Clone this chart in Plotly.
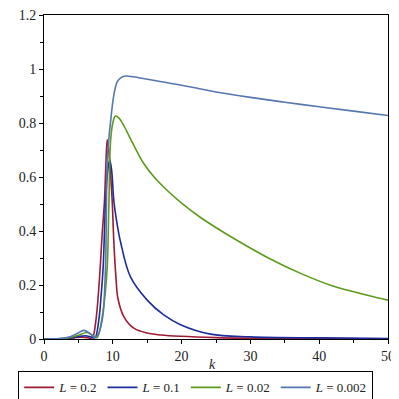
import plotly.graph_objects as go

# L = 0.2
k_a = [0, 2, 3.5, 4.5, 5.5, 6.3, 7.0, 7.5, 8.0, 8.46, 8.79, 9.0, 9.19, 9.4, 9.65, 9.91, 10.15, 10.45, 10.75, 11.6, 13.05, 15.0, 17.0, 19.8, 25, 30, 40, 50]
v_a = [0, 0.0005, 0.002, 0.005, 0.007, 0.005, 0.004, 0.06, 0.2, 0.389, 0.512, 0.65, 0.738, 0.70, 0.62, 0.512, 0.36, 0.23, 0.15, 0.083, 0.040, 0.022, 0.015, 0.010, 0.005, 0.003, 0.0015, 0.001]

# L = 0.1
k_b = [0, 2, 3.5, 4.8, 6.0, 6.8, 7.4, 7.97, 8.3, 8.6, 8.95, 9.25, 9.56, 9.85, 10.15, 10.6, 11.12, 12.57, 15.0, 17.41, 19.84, 24.2, 30, 40, 50]
v_b = [0, 0.0006, 0.003, 0.008, 0.012, 0.008, 0.004, 0.071, 0.16, 0.267, 0.51, 0.62, 0.665, 0.62, 0.512, 0.43, 0.36, 0.23, 0.144, 0.089, 0.053, 0.018, 0.008, 0.004, 0.002]

# L = 0.02
k_c = [0, 2, 3.5, 5.0, 6.28, 7.0, 7.7, 8.46, 8.9, 9.19, 9.45, 9.67, 10.0, 10.39, 10.9, 11.6, 12.5, 13.5, 14.5, 16.0, 18.0, 20.0, 22.75, 27.6, 32.4, 37.3, 42.1, 47.0, 50]
v_c = [0, 0.0008, 0.004, 0.014, 0.024, 0.015, 0.005, 0.083, 0.17, 0.267, 0.52, 0.732, 0.80, 0.826, 0.818, 0.790, 0.745, 0.695, 0.650, 0.600, 0.548, 0.503, 0.450, 0.372, 0.303, 0.243, 0.195, 0.162, 0.144]

# L = 0.002
k_d = [0, 2, 3.5, 4.8, 5.78, 6.6, 7.4, 7.97, 8.3, 8.6, 8.94, 9.19, 9.42, 9.67, 10.15, 10.64, 11.2, 11.85, 13, 15, 20, 22.75, 25, 30, 35, 40, 45, 50]
v_d = [0, 0.001, 0.006, 0.02, 0.032, 0.022, 0.006, 0.022, 0.05, 0.095, 0.267, 0.658, 0.74, 0.804, 0.903, 0.952, 0.968, 0.974, 0.971, 0.962, 0.940, 0.926, 0.915, 0.895, 0.877, 0.860, 0.844, 0.828]

names = ["<i>L</i> = 0.2", "<i>L</i> = 0.1", "<i>L</i> = 0.02", "<i>L</i> = 0.002"]
colors = ["#9E1B32", "#1C2C9E", "#5C9A1C", "#5577B0"]

fig = go.Figure()
for kk, vv, nm, col in zip([k_a, k_b, k_c, k_d], [v_a, v_b, v_c, v_d], names, colors):
    fig.add_trace(
        go.Scatter(
            x=kk,
            y=vv,
            mode="lines",
            name=nm,
            line=dict(color=col, width=1.6, shape="spline", smoothing=1.0),
        )
    )

axis_font = dict(family="Liberation Serif", size=14, color="#222")

# the page puts the plot 8px in from the top-left corner, so the figure is 391px
fig.update_layout(
    width=391,
    height=391,
    margin=dict(l=36, r=11, t=7, b=60, autoexpand=False),
    plot_bgcolor="white",
    paper_bgcolor="white",
    font=axis_font,
    showlegend=True,
    legend=dict(
        orientation="h",
        x=-0.075,
        xanchor="left",
        y=-0.1,
        yanchor="top",
        bordercolor="black",
        borderwidth=1,
        font=dict(family="Liberation Serif", size=13, color="#222"),
        itemwidth=30,
        tracegroupgap=0,
    ),
    xaxis=dict(
        range=[0, 50],
        showgrid=False,
        zeroline=False,
        showline=True,
        linecolor="black",
        linewidth=1,
        mirror=True,
        ticks="outside",
        ticklen=4,
        tickcolor="black",
        ticklabeloverflow="allow",
        tickvals=[0, 10, 20, 30, 40, 50],
        minor=dict(tickvals=[5, 15, 25, 35, 45], ticks="outside", ticklen=3, tickcolor="black"),
    ),
    yaxis=dict(
        range=[0, 1.2],
        showgrid=False,
        zeroline=False,
        showline=True,
        linecolor="black",
        linewidth=1,
        mirror=True,
        ticks="outside",
        ticklen=4,
        tickcolor="black",
        ticklabeloverflow="allow",
        tickvals=[0, 0.2, 0.4, 0.6, 0.8, 1, 1.2],
        ticktext=["0", "0.2", "0.4", "0.6", "0.8", "1", "1.2"],
        minor=dict(tickvals=[0.1, 0.3, 0.5, 0.7, 0.9, 1.1], ticks="outside", ticklen=3, tickcolor="black"),
    ),
)

# axis title as a note so it can sit close under the tick labels
fig.add_annotation(
    text="<i>k</i>",
    xref="paper",
    yref="paper",
    x=0.49,
    y=-0.08,
    xanchor="center",
    yanchor="middle",
    showarrow=False,
    font=axis_font,
)

fig.write_html("out.html")
